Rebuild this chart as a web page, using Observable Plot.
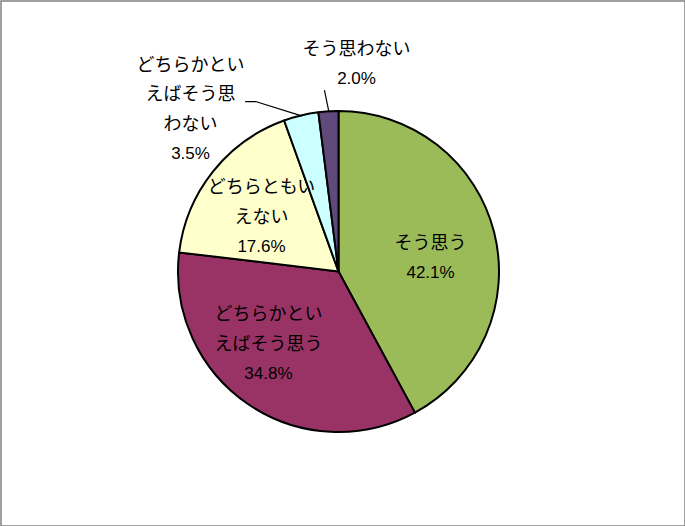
<!DOCTYPE html>
<html><head><meta charset="utf-8">
<script src="https://cdn.jsdelivr.net/npm/d3@7"></script>
<script src="https://cdn.jsdelivr.net/npm/@observablehq/plot@0.6"></script>
<style>body{margin:0;background:#fff}#chart svg{display:block}</style>
</head><body><div id="chart"></div>
<script>
// ---- data ----
const categories = ["そう思う", "どちらかといえばそう思う", "どちらともいえない", "どちらかといえばそう思わない", "そう思わない"];
const values = [42.1, 34.8, 17.6, 3.5, 2.0];
const colors = ["#9BBB59", "#993366", "#FFFFCC", "#CCFFFF", "#604A7B"];
const labelLines = [["そう思う"], ["どちらかとい", "えばそう思う"], ["どちらともい", "えない"], ["どちらかとい", "えばそう思", "わない"], ["そう思わない"]];
const pctLabels = values.map(v => v.toFixed(1) + "%");

// ---- layout (pixels) ----
const W = 685, H = 526, R = 160.5, CX = 338.5, CY = 271.5, LH = 29.5;
// label anchor: point on mid-angle at radius factor rf, then pixel offset dx/dy
const labelLayout = [
  {rf: 0.58, dx: 1.3, dy: 9},
  {rf: 0.63, dx: -13.7, dy: -11.6},
  {rf: 0.59, dx: -3.4, dy: 4},
  {rf: 1.0, dx: -111, dy: -6.9},
  {rf: 1.0, dx: 27.6, dy: -48.3}
];
// leader elbows, pixel offsets relative to label centre
const leaderLayout = {3: [[65, -7.5], [55, -7.5]], 4: [[-32, 27]]};

const data = categories.map((c, i) => ({category: c, value: values[i], color: colors[i]}));
const arcs = d3.pie().sort(null).value(d => d.value)(data);

// label centres in data units (radius = 1)
const centres = arcs.map((a, i) => {
  const m = (a.startAngle + a.endAngle) / 2, L = labelLayout[i];
  return {mid: m, x: L.rf * Math.sin(m) + L.dx / R, y: L.rf * Math.cos(m) - L.dy / R};
});

const textRows = [];
arcs.forEach((a, i) => {
  const lines = [...labelLines[i], pctLabels[i]];
  const n = lines.length;
  lines.forEach((t, k) => {
    const off = (k - (n - 1) / 2) * LH;
    textRows.push({text: t, pct: k === n - 1, x: centres[i].x, y: centres[i].y - off / R});
  });
});

const leaders = [];
Object.entries(leaderLayout).forEach(([i, pts]) => {
  i = +i;
  const m = centres[i].mid;
  leaders.push({s: i, x: Math.sin(m), y: Math.cos(m)});
  pts.forEach(([px, py]) => leaders.push({s: i, x: centres[i].x + px / R, y: centres[i].y - py / R}));
});

function pieMark(index, scales) {
  const cx = scales.x(0), cy = scales.y(0), r = scales.x(1) - scales.x(0);
  const arc = d3.arc().innerRadius(0).outerRadius(r);
  const g = d3.create("svg:g").attr("transform", `translate(${cx},${cy})`);
  g.selectAll("path").data(arcs).join("path")
    .attr("d", arc)
    .attr("fill", d => d.data.color)
    .attr("stroke", "#000")
    .attr("stroke-width", 2)
    .attr("stroke-linejoin", "round");
  return g.node();
}

const chart = Plot.plot({
  width: W, height: H, margin: 0,
  x: {domain: [-CX / R, (W - CX) / R], axis: null},
  y: {domain: [-(H - CY) / R, CY / R], axis: null},
  marks: [
    Plot.frame({stroke: "#808080", strokeWidth: 1.5, inset: 0.5}),
    pieMark,
    Plot.line(leaders, {x: "x", y: "y", z: "s", stroke: "#000", strokeWidth: 1.2}),
    Plot.text(textRows.filter(d => !d.pct), {x: "x", y: "y", text: "text", fontSize: 18, fontFamily: "Noto Sans CJK JP", fill: "#000", textAnchor: "middle"}),
    Plot.text(textRows.filter(d => d.pct), {x: "x", y: "y", text: "text", fontSize: 17, fontFamily: "Liberation Sans", fill: "#000", textAnchor: "middle"})
  ]
});
document.getElementById("chart").append(chart);
</script>
</body></html>
